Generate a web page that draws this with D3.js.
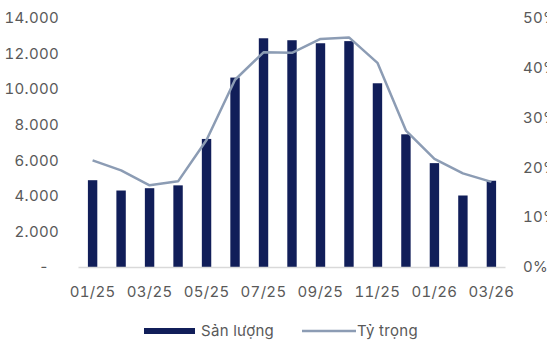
<!DOCTYPE html>
<html>
<head>
<meta charset="utf-8">
<script src="https://cdn.jsdelivr.net/npm/d3@7"></script>
<style>
  body { margin: 0; background: #fff; }
  text { font-family: Inter, "Noto Sans", sans-serif; fill: #595959; font-variant-numeric: tabular-nums; letter-spacing: 0.3px; }
</style>
</head>
<body>
<svg id="chart" width="547" height="343"></svg>
<script>
const months = ["01/25","02/25","03/25","04/25","05/25","06/25","07/25","08/25","09/25","10/25","11/25","12/25","01/26","02/26","03/26"]
const output = [4880, 4300, 4430, 4590, 7200, 10650, 12860, 12750, 12580, 12700, 10330, 7460, 5840, 4020, 4850]
const share = [0.214, 0.194, 0.164, 0.172, 0.255, 0.376, 0.431, 0.430, 0.458, 0.461, 0.410, 0.274, 0.217, 0.188, 0.171]
const leftTicks = [0, 2000, 4000, 6000, 8000, 10000, 12000, 14000]
const rightTicks = [0, 0.1, 0.2, 0.3, 0.4, 0.5]

const barColor = "#111E59"
const lineColor = "#8C9CB4"

const svg = d3.select("#chart")

const x = d3.scaleBand()
    .domain(months)
    .range([78.5, 505.5])
    .paddingInner(0.67)
    .paddingOuter(0.33)

const yLeft = d3.scaleLinear().domain([0, 14000]).range([267, 18])
const yRight = d3.scaleLinear().domain([0, 0.5]).range([267, 18])

const fmt = d => d === 0 ? "-" : d3.format(",")(d).replace(/,/g, ".")

// left axis labels
svg.append("g")
    .selectAll("text")
    .data(leftTicks)
    .join("text")
    .attr("x", d => d === 0 ? 49 : 59)
    .attr("y", d => yLeft(d))
    .attr("dy", "0.35em")
    .attr("text-anchor", "end")
    .style("font-size", "15px")
    .text(fmt)

// right axis labels
svg.append("g")
    .selectAll("text")
    .data(rightTicks)
    .join("text")
    .attr("x", 523)
    .attr("y", d => yRight(d))
    .attr("dy", "0.35em")
    .style("font-size", "15px")
    .text(d => d3.format(".0%")(d))

// bars
svg.append("g")
    .selectAll("rect")
    .data(output)
    .join("rect")
    .attr("x", (d, i) => x(months[i]))
    .attr("width", x.bandwidth())
    .attr("y", d => yLeft(d))
    .attr("height", d => yLeft(0) - yLeft(d))
    .attr("fill", barColor)

// baseline
svg.append("line")
    .attr("x1", x.range()[0])
    .attr("x2", x.range()[1])
    .attr("y1", yLeft(0) + 0.5)
    .attr("y2", yLeft(0) + 0.5)
    .attr("stroke", "#D9D9D9")
    .attr("stroke-width", 1.5)

// share line
const line = d3.line()
    .x((d, i) => x(months[i]) + x.bandwidth() / 2)
    .y(d => yRight(d))

svg.append("path")
    .datum(share)
    .attr("d", line)
    .attr("fill", "none")
    .attr("stroke", lineColor)
    .attr("stroke-width", 2.5)
    .attr("stroke-linejoin", "round")

// x labels, every other month
svg.append("g")
    .selectAll("text")
    .data(months.filter((m, i) => i % 2 === 0))
    .join("text")
    .attr("x", d => x(d) + x.bandwidth() / 2)
    .attr("y", 292)
    .attr("dy", "0.35em")
    .attr("text-anchor", "middle")
    .style("font-size", "15px")
    .text(d => d)

// legend
const legend = svg.append("g")
legend.append("rect")
    .attr("x", 144).attr("y", 328)
    .attr("width", 51).attr("height", 6)
    .attr("fill", barColor)
legend.append("text")
    .attr("x", 201).attr("y", 331)
    .attr("dy", "0.35em")
    .style("font-size", "15px")
    .text("Sản lượng")
legend.append("line")
    .attr("x1", 302).attr("x2", 356)
    .attr("y1", 331).attr("y2", 331)
    .attr("stroke", lineColor)
    .attr("stroke-width", 2.5)
legend.append("text")
    .attr("x", 357).attr("y", 331)
    .attr("dy", "0.35em")
    .style("font-size", "15px")
    .text("Tỷ trọng")
</script>
</body>
</html>
